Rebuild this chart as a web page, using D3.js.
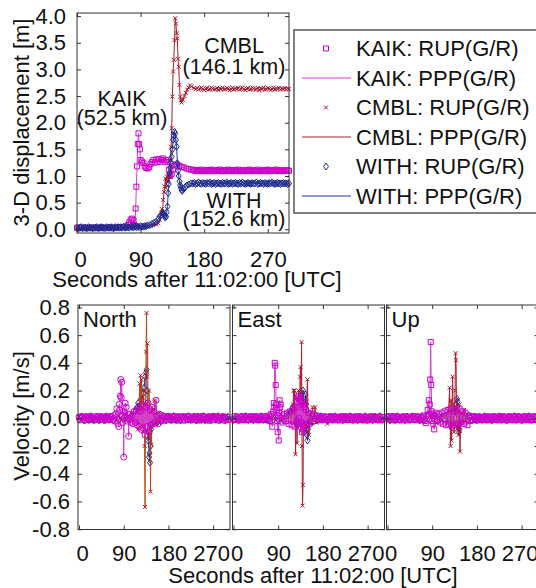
<!DOCTYPE html>
<html>
<head>
<meta charset="utf-8">
<script src="https://cdn.jsdelivr.net/npm/d3@7"></script>
<style>
  body { margin: 0; background: #fff; }
  svg { display: block; font-family: "Liberation Sans", Arial, sans-serif; }
</style>
</head>
<body>
<svg id="chart" width="536" height="588"></svg>
<script>
// ---- data ----
// pairs are [seconds after 11:02:00, value]; the *Pre/*Post/*Head/*Tail/*Plateau lists
// are evenly sampled runs (every RUN_DT s) starting at the time given in runStart

const RUN_DT = 2;
const runStart = {
  withDispHead: 0, kaikDispPlateau: 90, kaikDispTail: 164, cmblDispTail: 170, withDispTail: 164,
  velPre: 0, velPost: 170
};

// 3-D displacement [m]
const kaikDisp = [
  [0,0.03],[5,0.02],[10,0.03],[15,0.02],[20,0.03],[25,0.02],[30,0.03],[35,0.02],[40,0.03],[45,0.03],[50,0.02],[55,0.03],[60,0.03],[65,0.04],
  [70,0.05],[72,0.08],[74,0.13],[76,0.18],[78,0.2],[80,0.17],[81,0.08],[82,0.06],[83,0.39],[84,0.8],[85,1.18],[86,1.6],[87,1.8],[88,1.6],[89,1.5],
  [128,1.26],[130,1.12],[131,1.02],[132,1.0],[134,1.04],[136,1.12],[138,1.2],[140,1.22],[142,1.2],[145,1.19],[148,1.17],[151,1.16],[155,1.14],
  [158,1.13],[161,1.12]
];
const kaikDispPlateau = [1.3,1.27,1.24,1.18,1.15,1.14,1.17,1.22,1.26,1.3,1.25,1.31,1.27,1.32,1.26,1.3,1.33,1.27,1.3];
const kaikDispTail = [
  1.12,1.1,1.11,1.09,1.11,1.1,1.12,1.09,1.1,1.11, 1.1,1.09,1.11,1.12,1.1,1.09,1.1,1.11,1.1,1.12,
  1.09,1.1,1.11,1.09,1.1,1.12,1.1,1.11,1.09,1.1, 1.11,1.1,1.12,1.09,1.1,1.11,1.1,1.09,1.11,1.1,
  1.12,1.1,1.09,1.11,1.1,1.1,1.12,1.09,1.1,1.11, 1.1,1.09,1.11,1.12,1.1,1.09,1.1,1.11,1.1,1.12,
  1.09,1.1,1.11,1.1,1.09,1.1,1.11,1.1,1.1
];
const cmblDisp = [
  [0,0.02],[5,0.03],[10,0.02],[15,0.03],[20,0.02],[25,0.03],[30,0.02],[35,0.03],[40,0.02],[45,0.03],[50,0.03],[55,0.02],[60,0.03],[65,0.03],[70,0.03],
  [75,0.03],[80,0.04],[85,0.04],[90,0.04],[95,0.05],[100,0.06],[104,0.07],[108,0.08],[112,0.09],[115,0.11],[117,0.18],[119,0.3],[120,0.38],[121,0.3],
  [122,0.55],[123,0.7],[124,0.8],[125,0.95],[126,0.78],[127,0.99],[128,0.92],[129,0.89],[130,1.0],[131,1.05],[132,1.3],[133,1.55],[134,1.9],[135,2.49],
  [136,2.96],[137,3.18],[138,3.55],[139,3.96],[140,3.86],[141,3.68],[142,3.58],[143,3.2],[144,3.05],[145,2.71],[146,2.49],[147,2.42],[148,2.38],[150,2.43],
  [152,2.5],[154,2.56],[156,2.62],[158,2.66],[160,2.7],[162,2.68],[165,2.65],[168,2.63]
];
const cmblDispTail = [
  2.65,2.62,2.64,2.66,2.63,2.61,2.64,2.65,2.62,2.63, 2.66,2.64,2.62,2.63,2.65,2.61,2.64,2.63,2.66,2.62,
  2.63,2.65,2.64,2.61,2.63,2.66,2.62,2.64,2.63,2.65, 2.62,2.64,2.66,2.63,2.61,2.64,2.65,2.62,2.63,2.66,
  2.64,2.62,2.63,2.65,2.61,2.64,2.63,2.66,2.62,2.63, 2.65,2.64,2.61,2.63,2.66,2.62,2.64,2.63,2.65,2.62,
  2.64,2.63,2.65,2.62,2.64,2.63
];
const withDispHead = [
  0.03,0.02,0.03,0.04,0.02,0.03,0.03,0.02,0.04,0.03, 0.03,0.02,0.03,0.03,0.04,0.02,0.03,0.04,0.03,0.03,
  0.02,0.04,0.03,0.03,0.04,0.03,0.02,0.04,0.03,0.04, 0.03,0.04,0.03,0.05,0.03,0.04,0.04,0.03,0.05,0.04,
  0.04,0.05,0.04,0.05,0.04,0.06,0.05,0.05,0.06,0.06, 0.07
];
const withDisp = [
  [103,0.08],[106,0.1],[109,0.12],[112,0.14],[115,0.19],[117,0.24],[119,0.27],[121,0.3],
  [122,0.31],[123,0.28],[124,0.25],[125,0.22],[126,0.24],[127,0.32],[128,0.43],[129,0.68],[130,0.85],[131,1.05],[132,1.15],[133,1.25],[134,1.36],[135,1.5],
  [136,1.68],[137,1.75],[138,1.83],[139,1.8],[140,1.68],[141,1.55],[142,1.24],[143,1.1],[144,1.0],[145,0.9],[146,0.83],[147,0.78],[148,0.74],[149,0.72],
  [151,0.76],[153,0.79],[155,0.82],[158,0.84],[161,0.86]
];
const withDispTail = [
  0.86,0.87,0.85,0.86,0.88,0.86,0.85,0.87,0.86,0.85, 0.87,0.86,0.88,0.85,0.86,0.87,0.85,0.86,0.87,0.86,
  0.85,0.87,0.86,0.86,0.88,0.85,0.86,0.87,0.85,0.86, 0.87,0.86,0.85,0.87,0.86,0.88,0.86,0.85,0.86,0.87,
  0.86,0.85,0.87,0.86,0.86,0.88,0.85,0.86,0.87,0.86, 0.85,0.87,0.86,0.85,0.87,0.86,0.88,0.86,0.85,0.86,
  0.87,0.86,0.85,0.86,0.87,0.86,0.86,0.85,0.86
];

// Velocity [m/s], North
const kaikNorthPre = [
  0.01,-0.012,0.008,0.015,-0.01,0.005,-0.015,0.012,-0.005,0.01, -0.012,0.015,-0.008,0.01,0.002,-0.015,0.012,-0.01,0.008,-0.005,
  0.015,-0.012,0.01,-0.008,0.005,0.012,-0.015,0.01,-0.01,0.008, -0.012,0.015,-0.005,0.01,-0.012,0.02
];
const kaikNorth = [
  [72,-0.02],[74,0.03],[76,0.07],[78,-0.04],[80,-0.06],[81,0.1],[82,0.06],[83,0.16],[84,0.28],[85,0.15],[86,0.26],[87,0.02],[88,-0.03],[89,0.05],[90,-0.28],
  [91,0.0],[92,0.04],[93,0.11],[95,0.08],[97,-0.02],[99,0.03],[100,-0.13],[101,0.0],[103,0.03],[105,-0.03],[107,0.02],[109,-0.04],[111,0.05],[113,-0.03],
  [115,0.06],[117,-0.05],[119,0.07],[121,-0.06],[123,0.05],[125,-0.08],[127,0.1],[129,-0.07],[131,0.09],[133,-0.12],[135,0.08],[137,-0.06],[139,0.11],
  [141,-0.1],[143,0.06],[145,-0.05],[147,0.08],[149,-0.04],[151,0.05],[153,-0.03],[155,0.13],[157,0.02],[159,-0.04],[162,0.03],[165,-0.02],[168,0.02]
];
const kaikNorthPost = [
  -0.015,0.012,-0.008,0.01,-0.012,0.015,-0.005,0.01,-0.015,0.008, 0.012,-0.01,0.015,-0.012,0.005,-0.015,0.01,-0.008,0.012,-0.01,
  0.008,-0.015,0.012,-0.005,0.01,-0.012,0.015,-0.01,0.005,-0.012, 0.01,-0.008,0.015,-0.012,0.01,-0.015,0.008,-0.01,0.012,-0.005,
  0.015,-0.012,0.01,-0.008,0.005,-0.015,0.012,-0.01,0.008,-0.012, 0.015,-0.01,0.012,-0.005,0.01,-0.015,0.008,-0.012,0.01,-0.008,
  0.012,-0.015,0.01,-0.01,0.008,-0.012
];
const cmblNorth = [
  [0,0.01],[5,-0.01],[10,0.015],[15,-0.012],[20,0.01],[25,-0.015],[30,0.012],[35,-0.01],[40,0.015],[45,-0.01],[50,0.012],[55,-0.015],[60,0.01],[65,-0.012],
  [70,0.015],[75,-0.01],[80,0.012],[85,-0.015],[90,0.01],[95,-0.012],[100,0.015],[105,-0.01],[110,0.02],[114,-0.03],[116,0.02],[118,-0.02],[119,-0.08],
  [120,0.05],[121,0.1],[122,0.25],[123,-0.02],[124,0.31],[125,0.05],[126,0.28],[127,-0.05],[128,0.15],[129,-0.1],[130,0.2],[131,0.05],[132,-0.2],[133,-0.64],
  [134,0.1],[135,0.48],[136,0.76],[137,0.3],[138,0.54],[139,0.1],[140,-0.1],[141,0.2],[142,-0.15],[143,0.05],[144,-0.53],[145,0.0],[146,-0.19],[147,0.08],
  [148,-0.05],[150,0.06],[152,-0.04],[153,0.13],[155,-0.03],[158,0.04],[161,-0.03],[164,0.02],[167,-0.02],
  [170,0.015],[175,-0.01],[180,0.02],[185,-0.015],[190,0.01],[195,-0.02],[200,0.015],[205,-0.01],[210,0.02],[215,-0.015],[220,0.01],[225,-0.02],[230,0.015],
  [235,-0.01],[240,0.02],[245,-0.015],[250,-0.025],[255,-0.02],[260,0.015],[265,-0.01],[270,0.02],[275,-0.015],[280,0.01],[285,-0.02],[290,0.015],[295,-0.01],[300,0.01]
];
const withNorth = [
  [0,-0.01],[5,0.012],[10,-0.015],[15,0.01],[20,-0.012],[25,0.015],[30,-0.01],[35,0.012],[40,-0.015],[45,0.01],[50,-0.012],[55,0.015],[60,-0.01],[65,0.012],
  [70,-0.015],[75,0.01],[80,-0.012],[85,0.015],[90,-0.01],[95,0.012],[100,-0.015],[105,0.01],[110,0.02],[114,0.05],[117,0.08],[119,0.11],[121,0.06],[123,0.09],
  [125,0.14],[127,0.1],[129,0.18],[131,0.22],[133,0.3],[135,0.33],[136,0.35],[137,0.2],[138,0.0],[139,-0.16],[140,-0.1],[141,-0.28],[142,-0.25],[143,-0.32],
  [144,-0.2],[145,-0.08],[147,0.0],[149,0.04],[152,-0.03],[155,0.02],[158,-0.03],[162,0.02],[166,-0.02],
  [170,0.01],[175,-0.015],[180,0.012],[185,-0.01],[190,0.015],[195,-0.012],[200,0.01],[205,-0.015],[210,0.012],[215,-0.01],[220,0.015],[225,-0.012],[230,0.01],
  [235,-0.015],[240,0.012],[245,-0.01],[250,0.015],[255,-0.012],[260,0.01],[265,-0.015],[270,0.012],[275,-0.01],[280,0.015],[285,-0.012],[290,0.01],[295,-0.015],[300,0.01]
];

// Velocity [m/s], East
const kaikEastPre = [
  -0.01,0.015,-0.012,0.008,-0.005,0.012,-0.015,0.01,-0.008,0.015, -0.012,0.005,0.01,-0.015,0.012,-0.008,0.01,-0.012,0.015,-0.005,
  0.008,-0.012,0.015,-0.01,0.005,-0.015,0.012,-0.008,0.01,-0.012, 0.015,-0.01,0.008,-0.012,0.01,-0.015
];
const kaikEast = [
  [72,0.02],[74,-0.02],[76,0.03],[78,-0.06],[80,0.05],[81,0.11],[82,0.08],[83,0.4],[84,0.38],[85,0.24],[86,0.1],[87,0.06],[88,-0.02],[89,-0.1],[90,0.02],
  [91,-0.16],[92,0.04],[93,0.13],[94,0.08],[95,0.1],[97,0.02],[99,-0.03],[102,0.03],[105,-0.02],[108,0.04],[111,-0.04],[114,0.05],[117,-0.05],[120,0.07],
  [123,-0.06],[125,0.08],[127,0.12],[128,-0.02],[129,0.15],[130,-0.04],[131,0.16],[132,0.0],[133,0.14],[134,-0.06],[135,0.15],[136,-0.03],[137,0.12],
  [138,-0.1],[139,0.1],[140,-0.08],[141,0.08],[142,-0.05],[143,0.1],[144,-0.04],[146,0.06],[148,-0.04],[151,0.04],[155,-0.03],[159,0.03],[163,-0.02],[167,0.02]
];
const kaikEastPost = [
  0.012,-0.015,0.008,-0.01,0.015,-0.012,0.005,-0.01,0.012,-0.008, -0.015,0.01,-0.012,0.015,-0.005,0.01,-0.015,0.012,-0.008,0.01,
  -0.012,0.008,-0.015,0.012,-0.01,0.015,-0.005,0.01,-0.012,0.008, -0.01,0.015,-0.012,0.01,-0.008,0.012,-0.015,0.005,-0.01,0.012,
  -0.008,0.015,-0.012,0.01,-0.005,0.012,-0.015,0.01,-0.012,0.008, -0.015,0.012,-0.008,0.01,-0.012,0.015,-0.01,0.005,-0.012,0.01,
  -0.008,0.012,-0.015,0.01,-0.01,0.008
];
const cmblEast = [
  [0,0.012],[5,-0.01],[10,0.015],[15,-0.012],[20,0.01],[25,-0.015],[30,0.012],[35,-0.01],[40,0.015],[45,-0.012],[50,0.01],[55,-0.015],[60,0.012],[65,-0.01],
  [70,0.015],[75,-0.012],[80,0.01],[85,-0.015],[90,0.012],[95,-0.01],[100,0.015],[105,-0.012],[110,0.01],[114,0.02],[116,-0.03],[118,0.05],[120,0.1],[121,0.2],
  [122,-0.02],[123,0.2],[124,0.05],[125,-0.26],[126,0.0],[127,0.15],[128,-0.18],[129,0.1],[130,0.05],[131,0.2],[132,-0.05],[133,0.12],[134,0.3],[135,0.37],
  [136,0.1],[137,0.55],[138,-0.2],[139,-0.63],[140,-0.48],[141,0.05],[142,-0.1],[143,0.1],[145,-0.08],[147,0.12],[149,0.28],[150,-0.05],[152,-0.12],
  [154,0.03],[156,-0.04],[159,0.08],[162,-0.02],[164,0.08],[167,-0.03],
  [170,0.01],[175,-0.015],[180,0.012],[185,-0.01],[189,-0.04],[195,0.015],[200,-0.012],[205,0.01],[210,-0.015],[215,0.012],[220,-0.01],[225,0.015],[230,-0.012],
  [235,0.01],[240,-0.015],[245,0.012],[250,-0.01],[255,0.015],[260,-0.012],[265,0.01],[270,-0.015],[275,0.012],[280,-0.01],[285,0.015],[290,-0.012],[295,0.01],[300,-0.01]
];
const withEast = [
  [0,-0.012],[5,0.01],[10,-0.015],[15,0.012],[20,-0.01],[25,0.015],[30,-0.012],[35,0.01],[40,-0.015],[45,0.012],[50,-0.01],[55,0.015],[60,-0.012],[65,0.01],
  [70,-0.015],[75,0.012],[80,-0.01],[85,0.015],[90,-0.012],[95,0.01],[100,-0.015],[105,0.012],[110,0.02],[114,0.04],[117,0.06],[119,0.08],[121,0.03],
  [123,0.07],[125,-0.03],[127,0.05],[129,-0.05],[131,0.06],[133,0.1],[135,0.04],[137,0.12],[139,0.18],[140,0.2],[141,0.12],[142,-0.1],[143,0.05],[145,0.17],
  [146,0.1],[147,-0.05],[148,-0.12],[149,-0.16],[150,-0.08],[152,0.03],[155,-0.04],[158,0.02],[162,-0.02],[166,0.02],
  [170,-0.01],[175,0.015],[180,-0.012],[185,0.01],[190,-0.015],[195,0.012],[200,-0.01],[205,0.015],[210,-0.012],[215,0.01],[220,-0.015],[225,0.012],[230,-0.01],
  [235,0.015],[240,-0.012],[245,0.01],[250,-0.015],[255,0.012],[260,-0.01],[265,0.015],[270,-0.012],[275,0.01],[280,-0.015],[285,0.012],[290,-0.01],[295,0.015],[300,-0.01]
];

// Velocity [m/s], Up
const kaikUpPre = [
  0.012,-0.008,0.015,-0.012,0.005,-0.01,0.015,-0.015,0.01,-0.005, 0.012,-0.012,0.008,-0.015,0.01,0.005,-0.012,0.015,-0.008,0.01,
  -0.015,0.012,-0.005,0.01,-0.012,0.008,0.015,-0.01,0.012,-0.008, 0.01,-0.015,0.012,-0.01,0.005,-0.012
];
const kaikUp = [
  [72,0.02],[75,-0.02],[77,-0.035],[79,0.02],[81,0.06],[83,0.13],[84,0.03],[85,0.1],[86,0.28],[87,0.55],[88,0.24],[89,0.05],[90,-0.02],[91,0.03],[92,-0.04],
  [94,-0.08],[95,0.02],[97,0.04],[100,-0.02],[103,0.03],[106,-0.03],[109,0.04],[112,-0.04],[115,0.05],[118,-0.05],[121,0.06],[124,-0.04],[127,0.07],
  [130,-0.06],[133,0.05],[136,-0.05],[139,0.06],[142,-0.04],[145,0.07],[148,-0.03],[151,0.05],[154,-0.04],[157,0.04],[161,-0.05],[164,0.02],[167,-0.02]
];
const kaikUpPost = [
  0.01,-0.012,0.015,-0.008,0.012,-0.015,0.005,-0.01,0.012,-0.012, 0.008,-0.015,0.01,-0.005,0.015,-0.012,0.01,-0.008,0.012,-0.015,
  0.005,-0.01,0.015,-0.012,0.008,-0.01,0.012,-0.015,0.01,-0.005, 0.015,-0.012,0.01,-0.008,0.012,-0.015,0.005,-0.01,0.015,-0.012,
  0.008,-0.01,0.012,-0.015,0.01,-0.005,0.015,-0.012,0.008,-0.01, 0.012,-0.015,0.01,-0.008,0.015,-0.012,0.005,-0.01,0.012,-0.015,
  0.01,-0.008,0.012,-0.01,0.015,-0.012
];
const cmblUp = [
  [0,-0.01],[5,0.012],[10,-0.015],[15,0.01],[20,-0.012],[25,0.015],[30,-0.01],[35,0.012],[40,-0.015],[45,0.01],[50,-0.012],[55,0.015],[60,-0.01],[65,0.012],
  [70,-0.015],[75,0.01],[80,-0.012],[85,0.015],[90,-0.01],[95,0.012],[100,-0.015],[105,0.01],[110,-0.012],[114,0.015],[118,0.02],[121,-0.03],[123,0.05],
  [125,0.22],[126,0.0],[127,-0.2],[128,0.13],[129,-0.16],[130,0.05],[131,0.3],[132,0.1],[133,-0.05],[134,-0.1],[135,0.08],[136,0.2],[137,0.47],[138,0.42],
  [139,0.05],[140,-0.08],[141,0.04],[143,-0.12],[144,0.02],[145,0.1],[146,-0.24],[147,0.0],[149,0.04],[151,-0.03],[154,0.06],[157,-0.02],[160,0.03],[165,-0.02],
  [170,0.01],[175,-0.012],[180,0.015],[185,-0.01],[190,0.012],[195,-0.015],[200,0.01],[205,-0.012],[210,0.015],[215,-0.01],[220,0.012],[225,-0.015],[230,0.01],
  [235,-0.012],[240,0.015],[245,-0.01],[250,0.012],[255,-0.015],[260,0.01],[265,-0.012],[270,0.015],[275,-0.01],[280,0.012],[285,-0.015],[290,0.01],[295,-0.012],[300,0.01]
];
const withUp = [
  [0,0.012],[5,-0.015],[10,0.01],[15,-0.012],[20,0.015],[25,-0.01],[30,0.012],[35,-0.015],[40,0.01],[45,-0.012],[50,0.015],[55,-0.01],[60,0.012],[65,-0.015],
  [70,0.01],[75,-0.012],[80,0.015],[85,-0.01],[90,0.012],[95,0.02],[100,-0.015],[105,0.01],[110,0.01],[115,0.02],[120,-0.02],[125,0.03],[130,-0.03],[134,0.04],
  [137,0.06],[139,0.1],[140,0.14],[141,0.12],[142,0.02],[143,-0.06],[144,-0.1],[145,-0.08],[146,-0.03],[148,0.02],[151,-0.02],[155,0.02],[160,-0.01],[165,0.015],
  [170,-0.012],[175,0.01],[180,-0.015],[185,0.012],[190,-0.01],[195,0.015],[200,-0.012],[205,0.01],[210,-0.015],[215,0.012],[220,-0.01],[225,0.015],[230,-0.012],
  [235,0.01],[240,-0.015],[245,0.012],[250,-0.01],[255,0.015],[260,-0.012],[265,0.01],[270,-0.015],[275,0.012],[280,-0.01],[285,0.015],[290,-0.012],[295,0.01],[300,-0.01]
];

// ticks and labels
const timeTicks = [0, 90, 180, 270];
const dispTicks = [0, 0.5, 1, 1.5, 2, 2.5, 3, 3.5, 4];
const velTicks = [-0.8, -0.6, -0.4, -0.2, 0, 0.2, 0.4, 0.6, 0.8];
const panelNames = ["North", "East", "Up"];
const legendLabels = ["KAIK: RUP(G/R)", "KAIK: PPP(G/R)", "CMBL: RUP(G/R)", "CMBL: PPP(G/R)", "WITH: RUP(G/R)", "WITH: PPP(G/R)"];
const stationNotes = [
  {name: "CMBL", dist: "(146.1 km)"},
  {name: "KAIK", dist: "(52.5 km)"},
  {name: "WITH", dist: "(152.6 km)"}
];
const xTitle = "Seconds after 11:02:00 [UTC]";

// ---- helpers ----
function run(t0, values) {
  return values.map((v, i) => [t0 + i * RUN_DT, v]);
}
function merge(...parts) {
  return d3.sort([].concat(...parts), d => d[0]);
}

const MARK = {
  square: "M-2.5,-2.5h5v5h-5Z",
  cross: "M-2,-2L2,2M-2,2L2,-2",
  diamond: "M0,-3.5L2.5,0L0,3.5L-2.5,0Z",
  circle: "M3,0A3,3 0 1,1 -3,0A3,3 0 1,1 3,0"
};
const styleKaik = {color: "#CC00CC", line: "#D63CD6", marker: MARK.square};
const styleCmbl = {color: "#B0182E", line: "#A8202E", marker: MARK.cross};
const styleWith = {color: "#1B2A8E", line: "#24349C", marker: MARK.diamond};
const frameColor = "#333";
const FS = 22;

const svg = d3.select("#chart");

function drawSeries(g, xs, ys, data, st) {
  const line = d3.line().x(d => xs(d[0])).y(d => ys(d[1]));
  g.append("path").datum(data)
    .attr("d", line)
    .attr("fill", "none")
    .attr("stroke", st.line)
    .attr("stroke-width", 1);
  g.append("g").selectAll("path")
    .data(data)
    .join("path")
    .attr("transform", d => "translate(" + xs(d[0]) + "," + ys(d[1]) + ")")
    .attr("d", st.marker)
    .attr("fill", "none")
    .attr("stroke", st.color)
    .attr("stroke-width", 1);
}

function styleAxis(g) {
  g.select(".domain").remove();
  g.selectAll(".tick line").attr("stroke", frameColor);
  g.selectAll(".tick text")
    .attr("fill", "#111")
    .style("font-family", '"Liberation Sans", Arial, sans-serif')
    .style("font-size", FS + "px");
}
// the edge labels sit a little inward, as in the original figure
function nudgeTimeLabels(g) {
  g.selectAll(".tick text").attr("dx", d => d === 0 ? 3 : (d === 270 ? -2 : 0));
}

// ---- top: 3-D displacement ----
const xTop = d3.scaleLinear().domain([0, 300]).range([77, 289]);
const yTop = d3.scaleLinear().domain([0, 4]).range([229.3, 16.1]);
const topBox = {left: 77, right: 289, top: 13, bottom: 233};

const topG = svg.append("g");
drawSeries(topG, xTop, yTop,
  merge(kaikDisp, run(runStart.kaikDispPlateau, kaikDispPlateau), run(runStart.kaikDispTail, kaikDispTail)), styleKaik);
drawSeries(topG, xTop, yTop,
  merge(cmblDisp, run(runStart.cmblDispTail, cmblDispTail)), styleCmbl);
drawSeries(topG, xTop, yTop,
  merge(run(runStart.withDispHead, withDispHead), withDisp, run(runStart.withDispTail, withDispTail)), styleWith);

topG.append("rect")
  .attr("x", topBox.left).attr("y", topBox.top)
  .attr("width", topBox.right - topBox.left).attr("height", topBox.bottom - topBox.top)
  .attr("fill", "none").attr("stroke", frameColor).attr("stroke-width", 1);

topG.append("g").attr("transform", "translate(0," + topBox.bottom + ")")
  .call(d3.axisBottom(xTop).tickValues(timeTicks).tickSizeInner(-4).tickSizeOuter(0).tickPadding(18))
  .call(styleAxis)
  .call(g => g.selectAll(".tick text").attr("dx", d => d === 0 ? 3 : 0));
topG.append("g").attr("transform", "translate(0," + topBox.top + ")")
  .call(d3.axisTop(xTop).tickValues(timeTicks).tickSizeInner(-4).tickSizeOuter(0).tickFormat(""))
  .call(styleAxis);
topG.append("g").attr("transform", "translate(" + topBox.left + ",0)")
  .call(d3.axisLeft(yTop).tickValues(dispTicks).tickSizeInner(-4).tickSizeOuter(0).tickPadding(11).tickFormat(d => d.toFixed(1)))
  .call(styleAxis);
topG.append("g").attr("transform", "translate(" + topBox.right + ",0)")
  .call(d3.axisRight(yTop).tickValues(dispTicks).tickSizeInner(-4).tickSizeOuter(0).tickFormat(""))
  .call(styleAxis);

// station annotations
const notePos = [[234, 53, 74], [122, 106, 125], [234, 208, 226]];
stationNotes.forEach((n, i) => {
  const p = notePos[i];
  topG.append("text").attr("x", p[0]).attr("y", p[1]).attr("text-anchor", "middle")
    .style("font-size", "21.5px").attr("fill", "#111").text(n.name);
  topG.append("text").attr("x", p[0]).attr("y", p[2]).attr("text-anchor", "middle")
    .style("font-size", "21.5px").attr("fill", "#111").text(n.dist);
});

topG.append("text")
  .attr("transform", "translate(28.5,122.5) rotate(-90)")
  .attr("text-anchor", "middle")
  .style("font-size", FS + "px").attr("fill", "#111")
  .text("3-D displacement [m]");
topG.append("text")
  .attr("x", 197).attr("y", 287).attr("text-anchor", "middle")
  .style("font-size", FS + "px").attr("fill", "#111")
  .text(xTitle);

// ---- legend ----
const leg = svg.append("g");
leg.append("rect").attr("x", 294).attr("y", 30).attr("width", 260).attr("height", 183)
  .attr("fill", "#fff").attr("stroke", "#555").attr("stroke-width", 1.5);
const legStyles = [styleKaik, styleKaik, styleCmbl, styleCmbl, styleWith, styleWith];
legendLabels.forEach((lab, i) => {
  const cy = 48.5 + i * 29.5;
  const st = legStyles[i];
  if (i % 2 === 0) {
    leg.append("path").attr("transform", "translate(326," + cy + ")")
      .attr("d", st.marker).attr("fill", "none").attr("stroke", st.color).attr("stroke-width", 1);
  } else {
    leg.append("line").attr("x1", 302).attr("x2", 351).attr("y1", cy).attr("y2", cy)
      .attr("stroke", st.line).attr("stroke-width", 1);
  }
  leg.append("text").attr("x", 356).attr("y", cy + 7.8)
    .style("font-size", FS + "px").attr("fill", "#111").text(lab);
});

// ---- bottom: velocity panels ----
const yVel = d3.scaleLinear().domain([-0.8, 0.8]).range([529.2, 307.4]);
const velTop = 305, velBottom = 529.5, panelW = 152;
const panelX = [78, 232.5, 386.5];
const panelData = [
  [withNorth, cmblNorth, merge(run(runStart.velPre, kaikNorthPre), kaikNorth, run(runStart.velPost, kaikNorthPost))],
  [withEast, cmblEast, merge(run(runStart.velPre, kaikEastPre), kaikEast, run(runStart.velPost, kaikEastPost))],
  [withUp, cmblUp, merge(run(runStart.velPre, kaikUpPre), kaikUp, run(runStart.velPost, kaikUpPost))]
];

panelNames.forEach((name, p) => {
  const x0 = panelX[p];
  const xs = d3.scaleLinear().domain([0, 304]).range([x0 + 1, x0 + panelW]);
  const g = svg.append("g");
  const d = panelData[p];
  drawSeries(g, xs, yVel, d[0], styleWith);
  // North CMBL trace has a browner line and North KAIK uses circles in the original
  drawSeries(g, xs, yVel, d[1], p === 0 ? {color: styleCmbl.color, line: "#B24A1E", marker: MARK.cross} : styleCmbl);
  drawSeries(g, xs, yVel, d[2], p === 0 ? {color: styleKaik.color, line: styleKaik.line, marker: MARK.circle} : styleKaik);

  g.append("rect").attr("x", x0).attr("y", velTop)
    .attr("width", panelW).attr("height", velBottom - velTop)
    .attr("fill", "none").attr("stroke", frameColor).attr("stroke-width", 1);

  g.append("g").attr("transform", "translate(0," + velBottom + ")")
    .call(d3.axisBottom(xs).tickValues(timeTicks).tickSizeInner(-4).tickSizeOuter(0).tickPadding(16))
    .call(styleAxis)
    .call(nudgeTimeLabels);
  g.append("g").attr("transform", "translate(0," + velTop + ")")
    .call(d3.axisTop(xs).tickValues(timeTicks).tickSizeInner(-4).tickSizeOuter(0).tickFormat(""))
    .call(styleAxis);
  g.append("g").attr("transform", "translate(" + x0 + ",0)")
    .call(d3.axisLeft(yVel).tickValues(velTicks).tickSizeInner(-4).tickSizeOuter(0).tickPadding(8)
      .tickFormat(p === 0 ? (v => v.toFixed(1)) : ""))
    .call(styleAxis);
  g.append("g").attr("transform", "translate(" + (x0 + panelW) + ",0)")
    .call(d3.axisRight(yVel).tickValues(velTicks).tickSizeInner(-4).tickSizeOuter(0).tickFormat(""))
    .call(styleAxis);

  g.append("text").attr("x", x0 + 5).attr("y", 327)
    .style("font-size", FS + "px").attr("fill", "#111").text(name);
});

svg.append("text")
  .attr("transform", "translate(28.5,416) rotate(-90)")
  .attr("text-anchor", "middle")
  .style("font-size", FS + "px").attr("fill", "#111")
  .text("Velocity [m/s]");
svg.append("text")
  .attr("x", 313).attr("y", 583).attr("text-anchor", "middle")
  .style("font-size", FS + "px").attr("fill", "#111")
  .text(xTitle);
</script>
</body>
</html>
